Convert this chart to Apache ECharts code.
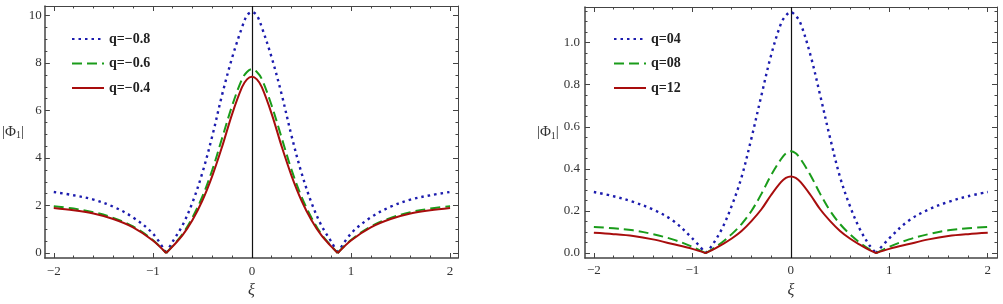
<!DOCTYPE html>
<html>
<head>
<meta charset="utf-8">
<script src="https://cdn.jsdelivr.net/npm/echarts@6/dist/echarts.min.js"></script>
<style>html,body{margin:0;padding:0;background:#fff}#c{width:1003px;height:304px}</style>
</head>
<body>
<div id="c"></div>
<script>
// ---- data ----
const xs = [-2, -1.8, -1.6, -1.4, -1.2, -1.0, -0.866, -0.8, -0.7, -0.6, -0.5, -0.4, -0.3, -0.2, -0.1, -0.05, 0,
            0.05, 0.1, 0.2, 0.3, 0.4, 0.5, 0.6, 0.7, 0.8, 0.866, 1.0, 1.2, 1.4, 1.6, 1.8, 2];

// left panel
const namesLeft = ['q=\u22120.8', 'q=\u22120.6', 'q=\u22120.4'];
const qm08 = [2.57, 2.43, 2.25, 1.95, 1.5, 0.82, 0, 0.48, 1.17, 2.13, 3.38, 4.93, 6.68, 8.22, 9.5, 10.0, 10.15,
              10.0, 9.5, 8.22, 6.68, 4.93, 3.38, 2.13, 1.17, 0.48, 0, 0.82, 1.5, 1.95, 2.25, 2.43, 2.57];
const qm06 = [1.97, 1.87, 1.72, 1.48, 1.12, 0.55, 0, 0.3, 0.8, 1.5, 2.38, 3.5, 4.85, 6.2, 7.32, 7.62, 7.74,
              7.62, 7.32, 6.2, 4.85, 3.5, 2.38, 1.5, 0.8, 0.3, 0, 0.55, 1.12, 1.48, 1.72, 1.87, 1.97];
const qm04 = [1.9, 1.8, 1.66, 1.43, 1.08, 0.53, 0, 0.28, 0.75, 1.39, 2.21, 3.25, 4.49, 5.85, 6.98, 7.31, 7.42,
              7.31, 6.98, 5.85, 4.49, 3.25, 2.21, 1.39, 0.75, 0.28, 0, 0.53, 1.08, 1.43, 1.66, 1.8, 1.9];

// right panel
const namesRight = ['q=04', 'q=08', 'q=12'];
const q04 = [0.29, 0.27, 0.243, 0.207, 0.155, 0.07, 0, 0.036, 0.115, 0.224, 0.361, 0.545, 0.746, 0.94, 1.09, 1.128, 1.145,
             1.128, 1.09, 0.94, 0.746, 0.545, 0.361, 0.224, 0.115, 0.036, 0, 0.07, 0.155, 0.207, 0.243, 0.27, 0.29];
const q08 = [0.124, 0.118, 0.108, 0.09, 0.065, 0.03, 0, 0.018, 0.05, 0.09, 0.138, 0.2, 0.28, 0.37, 0.446, 0.474, 0.484,
             0.474, 0.446, 0.37, 0.28, 0.2, 0.138, 0.09, 0.05, 0.018, 0, 0.03, 0.065, 0.09, 0.108, 0.118, 0.124];
const q12 = [0.096, 0.09, 0.081, 0.065, 0.043, 0.02, 0, 0.014, 0.04, 0.069, 0.105, 0.152, 0.207, 0.276, 0.337, 0.357, 0.364,
             0.357, 0.337, 0.276, 0.207, 0.152, 0.105, 0.069, 0.04, 0.014, 0, 0.02, 0.043, 0.065, 0.081, 0.09, 0.096];

// ticks
const xMajor = [-2, -1, 0, 1, 2];
const xMinor = [-1.8, -1.6, -1.4, -1.2, -0.8, -0.6, -0.4, -0.2, 0.2, 0.4, 0.6, 0.8, 1.2, 1.4, 1.6, 1.8];
const yMajorLeft = [0, 2, 4, 6, 8, 10];
const yMinorLeft = [0.5, 1, 1.5, 2.5, 3, 3.5, 4.5, 5, 5.5, 6.5, 7, 7.5, 8.5, 9, 9.5];
const yMajorRight = [0, 0.2, 0.4, 0.6, 0.8, 1.0];
const yMinorRight = [0.05, 0.1, 0.15, 0.25, 0.3, 0.35, 0.45, 0.5, 0.55, 0.65, 0.7, 0.75, 0.85, 0.9, 0.95, 1.05, 1.1, 1.15];

// ---- helpers ----
function pairs(x, y) {
  const out = [];
  for (let i = 0; i < x.length; i++) {
    out.push([x[i], y[i]]);
    if (y[i] === 0 && i > 0 && i < x.length - 1) { // break at cusp so each side is smoothed separately
      out.push([x[i], '-']);
      out.push([x[i], y[i]]);
    }
  }
  return out;
}
const SERIF = "'Liberation Serif','DejaVu Serif',serif";
const TICKC = '#444';
const colors = ['#1c1cae', '#1a9c1a', '#a80d0d'];
const styles = [[2.5, 4], [10, 5], 'solid'];
const widths = [2.4, 2, 2];

function xAxes(gi, min, max, margin) {
  const base = { type: 'value', gridIndex: gi, min: min, max: max, splitLine: { show: false } };
  return [
    Object.assign({}, base, {
      position: 'bottom',
      axisLine: { show: true, onZero: false, lineStyle: { color: TICKC, width: 1.5 } },
      axisTick: { show: true, inside: true, length: 5, customValues: xMajor, lineStyle: { color: TICKC } },
      axisLabel: { show: true, customValues: xMajor, margin: margin, color: '#333', fontFamily: SERIF, fontSize: 13,
                   formatter: v => String(v).replace('-', '\u2212') },
      name: '\u03BE', nameLocation: 'middle', nameGap: 25,
      nameTextStyle: { fontFamily: SERIF, fontStyle: 'italic', fontSize: 16, color: '#333' }
    }),
    Object.assign({}, base, {
      position: 'bottom', axisLine: { show: false, onZero: false }, axisLabel: { show: false },
      axisTick: { show: true, inside: true, length: 2.5, customValues: xMinor, lineStyle: { color: TICKC } }
    }),
    Object.assign({}, base, {
      position: 'top', axisLine: { show: true, onZero: false, lineStyle: { color: TICKC, width: 1 } }, axisLabel: { show: false },
      axisTick: { show: true, inside: true, length: 5, customValues: xMajor, lineStyle: { color: TICKC } }
    }),
    Object.assign({}, base, {
      position: 'top', axisLine: { show: false, onZero: false }, axisLabel: { show: false },
      axisTick: { show: true, inside: true, length: 2.5, customValues: xMinor, lineStyle: { color: TICKC } }
    })
  ];
}
function yAxes(gi, min, max, major, minor, fmt, margin, nameGap) {
  const base = { type: 'value', gridIndex: gi, min: min, max: max, splitLine: { show: false } };
  return [
    Object.assign({}, base, {
      position: 'left',
      axisLine: { show: true, onZero: false, lineStyle: { color: TICKC, width: 1.5 } },
      axisTick: { show: true, inside: true, length: 5, customValues: major, lineStyle: { color: TICKC } },
      axisLabel: { show: true, customValues: major, margin: margin, color: '#333', fontFamily: SERIF, fontSize: 13, formatter: fmt },
      name: '|\u03A6{s|1}|', nameLocation: 'middle', nameRotate: 0, nameGap: nameGap,
      nameTextStyle: { fontFamily: SERIF, fontSize: 15, color: '#333',
                       rich: { s: { fontFamily: SERIF, fontSize: 10, color: '#333', padding: [7, 0, 0, 0] } } }
    }),
    Object.assign({}, base, {
      position: 'left', axisLine: { show: false, onZero: false }, axisLabel: { show: false },
      axisTick: { show: true, inside: true, length: 2.5, customValues: minor, lineStyle: { color: TICKC } }
    }),
    Object.assign({}, base, {
      position: 'right', axisLine: { show: true, onZero: false, lineStyle: { color: TICKC, width: 1 } }, axisLabel: { show: false },
      axisTick: { show: true, inside: true, length: 5, customValues: major, lineStyle: { color: TICKC } }
    }),
    Object.assign({}, base, {
      position: 'right', axisLine: { show: false, onZero: false }, axisLabel: { show: false },
      axisTick: { show: true, inside: true, length: 2.5, customValues: minor, lineStyle: { color: TICKC } }
    })
  ];
}
function makeSeries(names, ysets, axisIdx) {
  return names.map((n, k) => {
    const s = {
      type: 'line', name: n, xAxisIndex: axisIdx, yAxisIndex: axisIdx,
      data: pairs(xs, ysets[k]), showSymbol: false, symbol: 'none', smooth: 0.35,
      connectNulls: false, z: 3 + k,
      lineStyle: { color: colors[k], width: widths[k], type: styles[k] },
      itemStyle: { color: colors[k] }
    };
    if (k === 0) {
      s.markLine = { silent: true, symbol: 'none', label: { show: false }, animation: false,
                     lineStyle: { color: '#111', width: 1.2, type: 'solid' }, data: [{ xAxis: 0 }], z: 1 };
    }
    return s;
  });
}
const legendText = { fontFamily: SERIF, fontWeight: 'bold', fontSize: 14, color: '#222' };
const legendItem = { opacity: 0, color: 'transparent', borderWidth: 0 };

const option = {
  animation: false,
  backgroundColor: '#fff',
  grid: [
    { left: 44, top: 6, width: 414, height: 257, containLabel: false },
    { left: 585, top: 7, width: 412, height: 254, containLabel: false }
  ],
  legend: [
    { left: 66, top: 27, orient: 'vertical', itemWidth: 32, itemHeight: 14, itemGap: 10.5,
      data: namesLeft, textStyle: legendText, itemStyle: legendItem, selectedMode: false },
    { left: 608, top: 27, orient: 'vertical', itemWidth: 32, itemHeight: 14, itemGap: 10.5,
      data: namesRight, textStyle: legendText, itemStyle: legendItem, selectedMode: false }
  ],
  xAxis: xAxes(0, -2.09, 2.08, 7).concat(xAxes(1, -2.09, 2.094, 6)),
  yAxis: yAxes(0, -0.21, 10.4, yMajorLeft, yMinorLeft, v => String(v), 3, 16)
    .concat(yAxes(1, -0.0234, 1.169, yMajorRight, yMinorRight, v => v.toFixed(1), 5, 21)),
  series: makeSeries(namesLeft, [qm08, qm06, qm04], 0).concat(makeSeries(namesRight, [q04, q08, q12], 4))
};
const chart = echarts.init(document.getElementById('c'), null, { renderer: 'canvas' });
chart.setOption(option);
</script>
</body>
</html>
